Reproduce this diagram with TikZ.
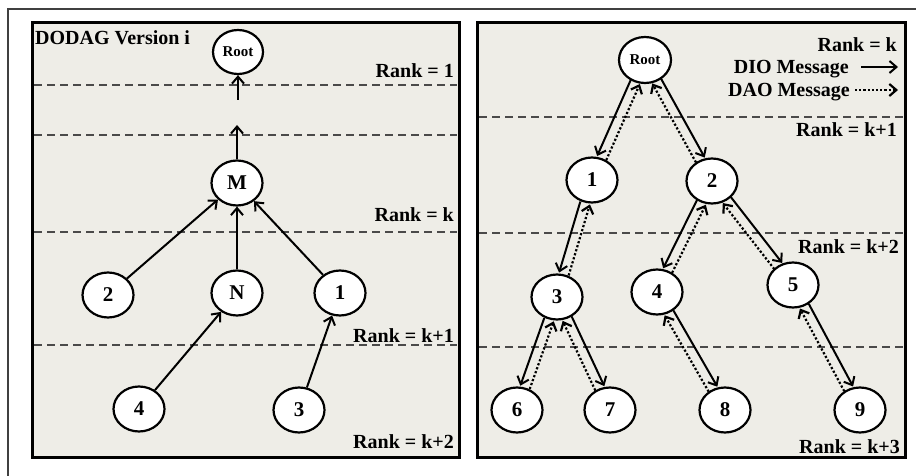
\documentclass[tikz,border=0pt]{standalone}
\usepackage{fontspec}
\setmainfont{Liberation Serif}
\usetikzlibrary{arrows.meta,calc,shapes.geometric}
\definecolor{panel}{HTML}{EEEDE7}
\definecolor{rankline}{HTML}{4A4A4A}

% Parent #1 sends DIO down to child #2, child answers with DAO on the other side.
% Child lies to the left of the parent: DIO on the outer (left) side.
\newcommand\linkL[2]{%
  \draw[dio] ($(#1)!5pt!-90:(#2)$) -- ($(#2)!5pt!90:(#1)$);
  \draw[dao] ($(#2)!5pt!-90:(#1)$) -- ($(#1)!5pt!90:(#2)$);
}
% Child lies to the right of the parent: DIO on the outer (right) side.
\newcommand\linkR[2]{%
  \draw[dio] ($(#1)!5pt!90:(#2)$) -- ($(#2)!5pt!-90:(#1)$);
  \draw[dao] ($(#2)!5pt!90:(#1)$) -- ($(#1)!5pt!-90:(#2)$);
}

\begin{document}
\begin{tikzpicture}[x=1pt,y=-1pt,
  tnode/.style={ellipse, draw, line width=2.2pt, fill=white, minimum width=51pt,
    minimum height=45pt, inner sep=0pt, font=\fontsize{21}{21}\selectfont\bfseries},
  rootnode/.style={tnode, minimum width=52pt, minimum height=46pt,
    font=\fontsize{15}{15}\selectfont\bfseries},
  tip/.style={-{Straight Barb[length=7pt,width=12pt]}},
  dio/.style={line width=2pt, tip},
  dao/.style={line width=2.2pt, dash pattern=on 2.2pt off 2pt, tip},
  rank/.style={draw=rankline, line width=1.8pt, dash pattern=on 8pt off 5pt},
  lbl/.style={font=\fontsize{20}{20}\selectfont\bfseries, inner sep=0pt, anchor=base east},
  panelbox/.style={draw=black, line width=3pt, fill=panel}]

\useasboundingbox (0,0) rectangle (916,476);

% frame lines
\draw[line width=1.2pt, draw=black!75] (916,9) -- (8,9) -- (8,476);

% the two panels
\draw[panelbox] (32,23) rectangle (459,457);
\draw[panelbox] (477,23) rectangle (905,457);

% ---------------- left panel ----------------
\foreach \yy in {85,135,232,345} \draw[rank] (34,\yy) -- (457,\yy);

\node[lbl, anchor=base west] (title) at (35,45) {DODAG Version i};
\node[lbl] (lr1) at (454,78) {Rank = 1};
\node[lbl] (lrk) at (454,221) {Rank = k};
\node[lbl] (lrk1) at (454,342) {Rank = k+1};
\node[lbl] (lrk2) at (454,448) {Rank = k+2};

\node[rootnode, minimum width=50pt, minimum height=44pt] (Lroot) at (238,52) {Root};
\node[tnode] (M) at (237,183) {M};
\node[tnode] (L2) at (108,295) {2};
\node[tnode] (N) at (237,293) {N};
\node[tnode] (L1) at (340,293) {1};
\node[tnode] (L4) at (139,409) {4};
\node[tnode] (L3) at (299,410) {3};

\coordinate (rin) at (238,100);
\coordinate (mup) at (237,125);
\draw[dio] (rin) -- (Lroot);
\draw[dio] (M) -- (mup);
\draw[dio] (L2) -- (M);
\draw[dio] (N) -- (M);
\draw[dio] (L1) -- (M);
\draw[dio] (L4) -- (N);
\draw[dio] (L3) -- (L1);

% ---------------- right panel ----------------
\foreach \yy in {117,233,347} \draw[rank] (479,\yy) -- (903,\yy);

\node[lbl] (rrk) at (897,52) {Rank = k};
\node[lbl] (dio) at (849,74) {DIO Message};
\node[lbl] (dao) at (850,97) {DAO Message};
\node[lbl] (rrk1) at (897,137) {Rank = k+1};
\node[lbl] (rrk2) at (899,253) {Rank = k+2};
\node[lbl] (rrk3) at (900,453) {Rank = k+3};

\coordinate (dioA) at (861,67);
\coordinate (dioB) at (898,67);
\coordinate (daoA) at (855,90);
\coordinate (daoB) at (898,90);
\draw[dio] (dioA) -- (dioB);
\draw[dao] (daoA) -- (daoB);

\node[rootnode] (R) at (645,60) {Root};
\node[tnode] (R1) at (592,180) {1};
\node[tnode] (R2) at (712,181) {2};
\node[tnode] (R3) at (557,297) {3};
\node[tnode] (R4) at (657,292) {4};
\node[tnode] (R5) at (793,285) {5};
\node[tnode] (R6) at (517,410) {6};
\node[tnode] (R7) at (610,410) {7};
\node[tnode] (R8) at (725,410) {8};
\node[tnode] (R9) at (860,410) {9};

\begin{scope}[dio/.append style={shorten <=24pt, shorten >=24pt},
              dao/.append style={shorten <=24pt, shorten >=24pt}]
  \linkL{R}{R1}
  \linkR{R}{R2}
  \linkL{R1}{R3}
  \linkL{R2}{R4}
  \linkR{R2}{R5}
  \linkL{R3}{R6}
  \linkR{R3}{R7}
  \linkR{R4}{R8}
  \linkR{R5}{R9}
\end{scope}
\end{tikzpicture}
\end{document}
